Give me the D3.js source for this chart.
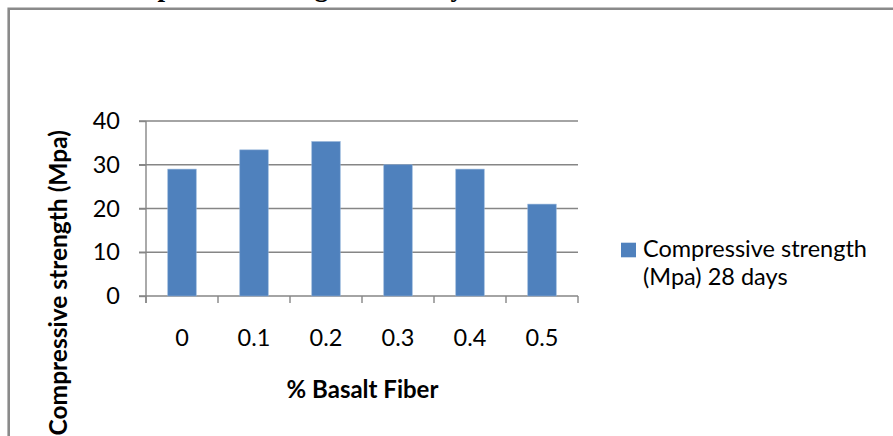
<!DOCTYPE html>
<html>
<head>
<meta charset="utf-8">
<script src="https://cdn.jsdelivr.net/npm/d3@7"></script>
<style>
  html, body { margin: 0; padding: 0; background: #fff; }
  svg { display: block; }
</style>
</head>
<body>
<svg id="chart" width="893" height="436"></svg>
<script>
// Basalt fibre content (%) and 28‑day compressive strength (MPa)
const categories = ["0", "0.1", "0.2", "0.3", "0.4", "0.5"];
const strength28 = [29, 33.4, 35.3, 30, 29, 21];
const yTicks = [0, 10, 20, 30, 40];
const seriesName = ["Compressive strength", "(Mpa) 28 days"];
const titleText = "Compressive strength of 28 days";

const svg = d3.select("#chart");
const font = "Lato, 'Open Sans', sans-serif";
const gridColor = "#868686";
const barColor = "#4f81bd";
const labelSize = 23.5;

const plot = { left: 146, right: 578, top: 121, bottom: 296 };

const x = d3.scaleBand().domain(categories).range([plot.left, plot.right]).padding(0);
const y = d3.scaleLinear().domain([0, 40]).range([plot.bottom, plot.top]);

// Chart title (mostly above the visible frame)
svg.append("text")
  .attr("x", 102).attr("y", -4.5)
  .attr("font-family", "'Liberation Serif', 'Times New Roman', serif")
  .attr("font-weight", "bold").attr("font-size", 27)
  .text(titleText);

// Outer frame
svg.append("path")
  .attr("d", `M8.7,436 V8.7 H900`)
  .attr("fill", "none").attr("stroke", "#8a8a8a").attr("stroke-width", 2.6);

// Horizontal gridlines (extend past the axis as tick marks)
svg.append("g").selectAll("line").data(yTicks).join("line")
  .attr("x1", plot.left - 7).attr("x2", plot.right)
  .attr("y1", d => y(d)).attr("y2", d => y(d))
  .attr("stroke", gridColor).attr("stroke-width", 1.4);

// Bars
const barW = x.bandwidth() * 0.395;
svg.append("g").selectAll("rect").data(strength28).join("rect")
  .attr("x", (d, i) => x(categories[i]) + (x.bandwidth() - barW) / 2)
  .attr("y", d => y(d))
  .attr("width", barW)
  .attr("height", d => plot.bottom - y(d))
  .attr("fill", barColor)
  .attr("stroke", "#8fb0d8").attr("stroke-width", 0.6);

// Y axis
const yAxis = svg.append("g")
  .attr("transform", `translate(${plot.left},0)`)
  .call(d3.axisLeft(y).tickValues(yTicks).tickSize(7).tickSizeOuter(0).tickPadding(19));
yAxis.select(".domain").remove();
yAxis.selectAll(".tick line").attr("stroke", gridColor).attr("stroke-width", 1.4);
yAxis.selectAll("text").attr("font-family", font).attr("font-size", labelSize).attr("fill", "#000");
svg.append("line")
  .attr("x1", plot.left).attr("x2", plot.left)
  .attr("y1", plot.top).attr("y2", plot.bottom + 7)
  .attr("stroke", gridColor).attr("stroke-width", 1.4);

// X axis: labels centred in each band, tick marks on band boundaries
const xAxis = svg.append("g")
  .attr("transform", `translate(0,${plot.bottom})`)
  .call(d3.axisBottom(x).tickSize(0).tickPadding(33.5));
xAxis.select(".domain").remove();
xAxis.selectAll("text").attr("font-family", font).attr("font-size", labelSize).attr("fill", "#000");

const boundaries = categories.map(c => x(c)).concat([plot.right]);
svg.append("g").selectAll("line").data(boundaries).join("line")
  .attr("x1", d => d).attr("x2", d => d)
  .attr("y1", plot.bottom).attr("y2", plot.bottom + 7)
  .attr("stroke", gridColor).attr("stroke-width", 1.4);

// Axis titles
svg.append("text")
  .attr("x", 362.5).attr("y", 398)
  .attr("text-anchor", "middle")
  .attr("font-family", font).attr("font-weight", "bold").attr("font-size", 24)
  .text("% Basalt Fiber");

svg.append("text")
  .attr("transform", "translate(67,130) rotate(-90)")
  .attr("text-anchor", "end")
  .attr("font-family", font).attr("font-weight", "bold").attr("font-size", 24.5)
  .text("Compressive strength (Mpa)");

// Legend
const legend = svg.append("g");
legend.append("rect")
  .attr("x", 621).attr("y", 242.7).attr("width", 15).attr("height", 14.6)
  .attr("fill", barColor);
legend.selectAll("text").data(seriesName).join("text")
  .attr("x", 643).attr("y", (d, i) => 257.3 + i * 28)
  .attr("font-family", font).attr("font-size", labelSize).attr("fill", "#000")
  .text(d => d);
</script>
</body>
</html>
